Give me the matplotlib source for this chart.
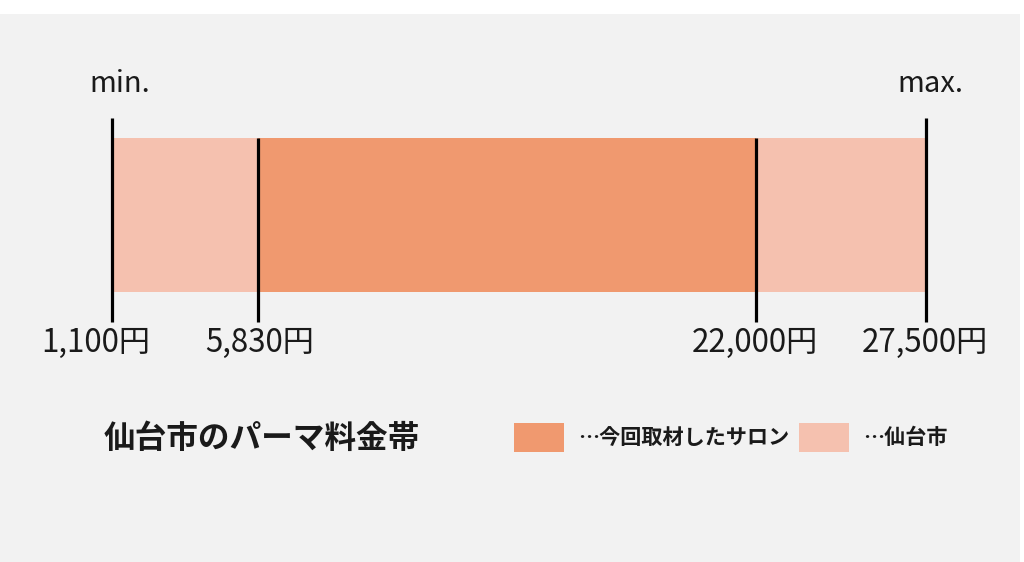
import matplotlib
matplotlib.use("Agg")
import matplotlib.pyplot as plt
from matplotlib.patches import Rectangle

plt.rcParams['font.family'] = ['Noto Sans CJK JP', 'DejaVu Sans']

# ---- data ----
city_range = [1100, 27500]          # 仙台市 min / max
salon_range = [5830, 22000]         # 今回取材したサロン
tick_values = [1100, 5830, 22000, 27500]
tick_labels = ["1,100円", "5,830円", "22,000円", "27,500円"]
end_labels = ["min.", "max."]
title = "仙台市のパーマ料金帯"
legend_labels = ["…今回取材したサロン", "…仙台市"]

dark = "#F0996F"
light = "#F5C1AF"
bg = "#F2F2F2"
txt = "#1a1a1a"

W, H = 1024, 562
fig = plt.figure(figsize=(W / 100, H / 100), dpi=100)
fig.patch.set_facecolor("white")

# background panel (pixel overlay axes)
lax = fig.add_axes([0, 0, 1, 1])
lax.set_xlim(0, W)
lax.set_ylim(H, 0)
lax.axis("off")
lax.add_patch(Rectangle((0, 14), 1020, H - 14, facecolor=bg, edgecolor="none", zorder=0))

# data axes: value scale mapped so that 1100 -> px 112, 27500 -> px 926
ax = fig.add_axes([0, 0, 1, 1])
ax.patch.set_alpha(0)
px_per_yen = (926 - 112) / (27500 - 1100)
x0 = 1100 - 112 / px_per_yen
x1 = 1100 + (W - 112) / px_per_yen
ax.set_xlim(x0, x1)
ax.set_ylim(H, 0)
ax.axis("off")

bar_c, bar_h = 215, 154
ax.barh(bar_c, city_range[1] - city_range[0], left=city_range[0], height=bar_h,
        color=light, zorder=2)
ax.barh(bar_c, salon_range[1] - salon_range[0], left=salon_range[0], height=bar_h,
        color=dark, zorder=3)

# vertical markers
ax.vlines(city_range, 118, 322, color="black", lw=2.3, zorder=4)
ax.vlines(salon_range, 138, 322, color="black", lw=2.3, zorder=4)

# end labels
ax.text(city_range[0] + 8 / px_per_yen, 84, end_labels[0], ha="center", va="center",
        fontsize=21, color=txt)
ax.text(city_range[1] + 4 / px_per_yen, 84, end_labels[1], ha="center", va="center",
        fontsize=21, color=txt)

# tick labels
offsets = [-16, 2, -1, -1]
for v, lab, off in zip(tick_values, tick_labels, offsets):
    ax.text(v + off / px_per_yen, 343, lab, ha="center", va="center",
            fontsize=22.5, color=txt)

# title
lax.text(104, 439, title, ha="left", va="center", fontsize=22.8, fontweight="bold", color=txt)

# legend
lax.add_patch(Rectangle((514, 423), 50, 29, facecolor=dark, edgecolor="none", zorder=2))
lax.text(578, 437, legend_labels[0], ha="left", va="center", fontsize=15.2,
         fontweight="bold", color=txt)
lax.add_patch(Rectangle((799, 423), 50, 29, facecolor=light, edgecolor="none", zorder=2))
lax.text(863, 437, legend_labels[1], ha="left", va="center", fontsize=15.2,
         fontweight="bold", color=txt)

fig.savefig("out.png", dpi=100, facecolor=fig.get_facecolor())
